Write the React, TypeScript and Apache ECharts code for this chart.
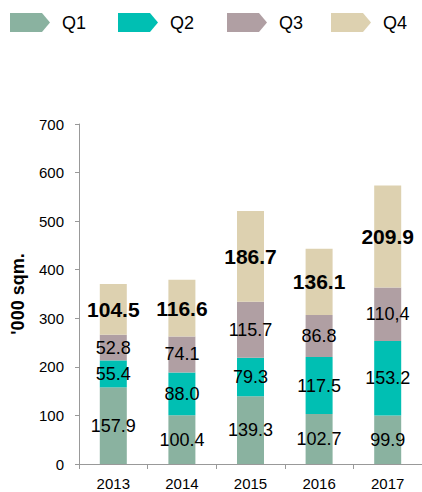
import React, { useEffect, useRef } from "react";
import * as echarts from "echarts";

const years = ["2013", "2014", "2015", "2016", "2017"];
const q1 = [157.9, 100.4, 139.3, 102.7, 99.9];
const q2 = [55.4, 88.0, 79.3, 117.5, 153.2];
const q3 = [52.8, 74.1, 115.7, 86.8, 110.4];
const q4 = [104.5, 116.6, 186.7, 136.1, 209.9];
const q3Labels = ["52.8", "74.1", "115.7", "86.8", "110,4"];
const seriesNames = ["Q1", "Q2", "Q3", "Q4"];
const colors = ["#8AB2A0", "#00BFB3", "#B09FA3", "#DDD1B0"];
const legendLefts = [5, 113, 222, 326];

const FONT = "'Liberation Sans', Arial, Helvetica, sans-serif";
const ICON = "path://M0,0 L32,0 L40,9.5 L32,19 L0,19 Z";

export default function App() {
  const ref = useRef<HTMLDivElement>(null);
  useEffect(() => {
    if (!ref.current) return;
    const chart = echarts.init(ref.current, undefined, { renderer: "svg" });
    const data = [q1, q2, q3, q4];
    const series = seriesNames.map((name, i) => ({
      name,
      type: "bar",
      stack: "total",
      barWidth: 27,
      itemStyle: { color: colors[i] },
      data: data[i],
      label: {
        show: true,
        position: "inside",
        color: "#000",
        fontFamily: FONT,
        fontSize: i === 3 ? 21 : 18,
        fontWeight: i === 3 ? "bold" : "normal",
        formatter: (p: any) =>
          i === 2 ? q3Labels[p.dataIndex] : Number(p.value).toFixed(1),
      },
    }));
    chart.setOption({
      animation: false,
      textStyle: { fontFamily: FONT },
      legend: seriesNames.map((name, i) => ({
        data: [name],
        left: legendLefts[i],
        top: 8,
        icon: ICON,
        itemWidth: 40,
        itemHeight: 19,
        textStyle: {
          fontFamily: FONT,
          fontSize: 18,
          color: "#000",
          padding: [0, 0, 0, 7],
        },
        selectedMode: false,
      })),
      grid: { left: 79, top: 124, width: 350, bottom: 28, containLabel: false },
      xAxis: {
        type: "category",
        data: years,
        axisLine: { lineStyle: { color: "#999", width: 1 } },
        axisTick: { show: true, length: 5, lineStyle: { color: "#999" } },
        axisLabel: { color: "#000", fontSize: 15, fontFamily: FONT, margin: 12 },
      },
      yAxis: {
        type: "value",
        min: 0,
        max: 700,
        interval: 100,
        name: "'000 sqm.",
        nameLocation: "middle",
        nameGap: 52,
        nameTextStyle: {
          color: "#000",
          fontSize: 18,
          fontWeight: "bold",
          fontFamily: FONT,
        },
        axisLine: { show: true, lineStyle: { color: "#999", width: 1 } },
        axisTick: { show: true, length: 4, lineStyle: { color: "#999" } },
        axisLabel: { color: "#000", fontSize: 15, fontFamily: FONT, margin: 15 },
        splitLine: { show: false },
      },
      series,
    });
    return () => chart.dispose();
  }, []);
  return <div ref={ref} style={{ width: 422, height: 492, position: "absolute", left: 0, top: 0 }} />;
}
